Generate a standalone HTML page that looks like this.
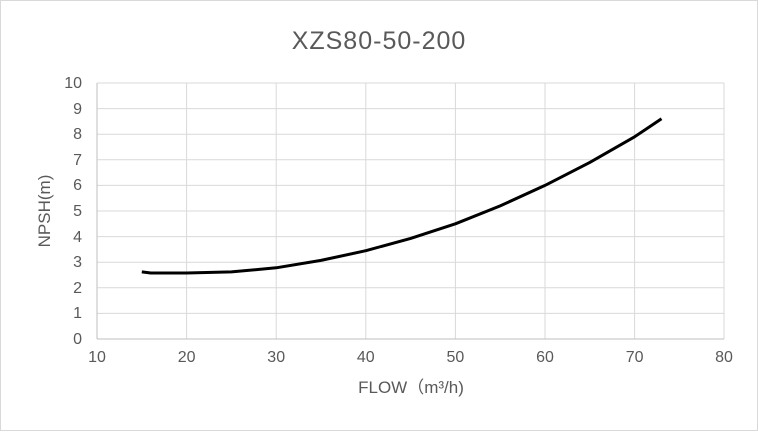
<!DOCTYPE html>
<html><head><style>body{margin:0;background:#fff}</style></head><body>
<svg width="758" height="431" xmlns="http://www.w3.org/2000/svg" font-family="Liberation Sans, sans-serif">
<rect x="0.5" y="0.5" width="757" height="430" fill="#fff" stroke="#d9d9d9"/>
<text x="379" y="49" text-anchor="middle" font-size="25" letter-spacing="1" fill="#595959">XZS80-50-200</text>
<g stroke="#d9d9d9" stroke-width="1">
<line x1="97" y1="83" x2="724" y2="83"/><line x1="97" y1="108.6" x2="724" y2="108.6"/><line x1="97" y1="134.2" x2="724" y2="134.2"/><line x1="97" y1="159.8" x2="724" y2="159.8"/><line x1="97" y1="185.4" x2="724" y2="185.4"/><line x1="97" y1="211" x2="724" y2="211"/><line x1="97" y1="236.6" x2="724" y2="236.6"/><line x1="97" y1="262.2" x2="724" y2="262.2"/><line x1="97" y1="287.8" x2="724" y2="287.8"/><line x1="97" y1="313.4" x2="724" y2="313.4"/>
<line x1="186.6" y1="83" x2="186.6" y2="339"/><line x1="276.2" y1="83" x2="276.2" y2="339"/><line x1="365.8" y1="83" x2="365.8" y2="339"/><line x1="455.4" y1="83" x2="455.4" y2="339"/><line x1="545" y1="83" x2="545" y2="339"/><line x1="634.6" y1="83" x2="634.6" y2="339"/><line x1="724" y1="83" x2="724" y2="339"/>
</g>
<g stroke="#bfbfbf"><line x1="97" y1="83" x2="97" y2="339"/><line x1="97" y1="339" x2="724" y2="339"/></g>
<g font-size="16" fill="#595959" text-anchor="end">
<text x="82" y="344">0</text><text x="82" y="318">1</text><text x="82" y="293">2</text><text x="82" y="267">3</text><text x="82" y="242">4</text><text x="82" y="216">5</text><text x="82" y="190">6</text><text x="82" y="165">7</text><text x="82" y="139">8</text><text x="82" y="114">9</text><text x="82" y="88">10</text>
</g>
<g font-size="16" fill="#595959" text-anchor="middle">
<text x="97" y="362">10</text><text x="186.6" y="362">20</text><text x="276.2" y="362">30</text><text x="365.8" y="362">40</text><text x="455.4" y="362">50</text><text x="545" y="362">60</text><text x="634.6" y="362">70</text><text x="724" y="362">80</text>
</g>
<text x="411" y="393" text-anchor="middle" font-size="17" fill="#595959">FLOW（m³/h)</text>
<text transform="translate(50,211) rotate(-90)" text-anchor="middle" font-size="17" fill="#595959">NPSH(m)</text>
<polyline fill="none" stroke="#000" stroke-width="3" stroke-linejoin="round" points="141.8,271.9 150.8,273 186.6,273 231.4,271.9 276.2,267.8 321,260.4 365.8,250.7 410.6,238.4 455.4,223.8 500.2,205.9 545,185.4 589.8,162.4 634.6,136.8 661.5,118.8"/>
</svg>
</body></html>
